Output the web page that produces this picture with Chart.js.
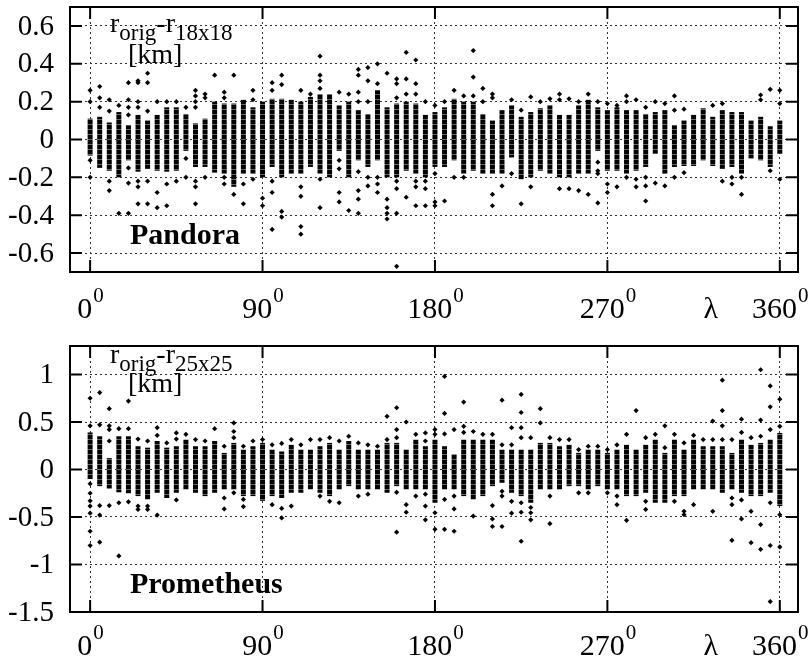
<!DOCTYPE html>
<html>
<head>
<meta charset="utf-8">
<script src="https://cdn.jsdelivr.net/npm/chart.js@4.4.1/dist/chart.umd.min.js"></script>
<style>
  html, body { margin: 0; padding: 0; background: #fff; }
  #wrap { position: relative; width: 810px; height: 658px; }
  canvas { position: absolute; left: 0; }
</style>
</head>
<body>
<div id="wrap">
  <canvas id="pandora" width="810" height="325" style="top:0"></canvas>
  <canvas id="prometheus" width="810" height="333" style="top:325px"></canvas>
</div>
<script>
// longitude of each measurement column (degrees)
const longitudes = [0,5,10,15,20,25,30,35,40,45,50,55,60,65,70,75,80,85,90,95,
  100,105,110,115,120,125,130,135,140,145,150,155,160,165,170,175,180,185,190,195,
  200,205,210,215,220,225,230,235,240,245,250,255,260,265,270,275,280,285,290,295,
  300,305,310,315,320,325,330,335,340,345,350,355,360];

const xTicks = [0, 90, 180, 270, 360];
const xTickLabels = ['0', '90', '180', '270', '360'];

// Pandora: dense part of each column (low / high) and the scattered points around it [km]
const pandoraLo = [-0.085,-0.15,-0.165,-0.2,-0.11,-0.17,-0.155,-0.165,-0.17,-0.165,
  -0.06,-0.145,-0.145,-0.175,-0.18,-0.25,-0.18,-0.18,-0.2,-0.145,
  -0.2,-0.18,-0.18,-0.145,-0.18,-0.2,-0.06,-0.2,-0.11,-0.145,
  -0.11,-0.2,-0.2,-0.165,-0.18,-0.2,-0.145,-0.145,-0.11,-0.18,
  -0.165,-0.18,-0.18,-0.18,-0.095,-0.21,-0.2,-0.165,-0.18,-0.2,
  -0.2,-0.18,-0.18,-0.06,-0.165,-0.165,-0.18,-0.165,-0.145,-0.075,
  -0.18,-0.145,-0.14,-0.14,-0.11,-0.14,-0.155,-0.145,-0.18,-0.1,
  -0.11,-0.145,-0.075];
const pandoraHi = [0.11,0.12,0.09,0.145,0.075,0.13,0.1,0.13,0.17,0.17,
  0.135,0.085,0.11,0.2,0.19,0.19,0.21,0.17,0.2,0.215,
  0.215,0.21,0.2,0.225,0.24,0.24,0.18,0.2,0.155,0.135,
  0.26,0.17,0.19,0.2,0.19,0.13,0.145,0.17,0.215,0.2,
  0.2,0.135,0.1,0.155,0.18,0.12,0.145,0.165,0.18,0.13,
  0.13,0.18,0.21,0.17,0.155,0.17,0.155,0.155,0.135,0.145,
  0.155,0.075,0.1,0.13,0.165,0.12,0.155,0.145,0.145,0.1,
  0.12,0.07,0.1];
const pandoraDots = [
  [0.26,0.2,-0.11,-0.2], [0.28,0.22,0.17], [0.21,0.15,-0.22,-0.27], [0.18,-0.39],
  [0.3,0.21,0.17,0.13,-0.15,-0.23,-0.39], [0.31,0.3,0.2,0.17,-0.22,-0.25,-0.34],
  [0.35,0.3,0.15,-0.22,-0.34], [0.2,-0.28,-0.36], [0.2,-0.235,-0.35], [0.2,-0.22],
  [0.17,-0.1,-0.2], [0.26,0.23,0.2,0.17,-0.22,-0.25,-0.34], [0.24,0.22,-0.2], [0.34],
  [0.25,0.22,-0.2,-0.235], [0.34,-0.29], [-0.235,-0.34], [0.26,0.21,-0.21], [-0.31,-0.35],
  [0.3,0.26,-0.22,-0.28,-0.475], [0.34,0.29,-0.38,-0.41], [], [0.26,-0.25,-0.3,-0.46,-0.5],
  [0.24], [0.44,0.34,0.31,0.27,-0.21,-0.36], [], [0.25,-0.11,-0.155,-0.28,-0.33],
  [0.24,-0.375], [0.37,0.34,0.25,0.2,-0.17,-0.27,-0.315,-0.39], [0.38,0.31,0.2,-0.2,-0.245],
  [0.4,0.295,-0.2,-0.235,-0.28], [0.35,-0.315,-0.36,-0.39,-0.42],
  [0.32,0.295,0.22,-0.22,-0.26,-0.39,-0.67], [0.46,0.32,0.24,-0.305],
  [0.42,0.295,0.24,-0.22,-0.25,-0.35], [0.2,-0.22,-0.26,-0.35], [0.18,-0.18,-0.33,-0.35],
  [0.2,-0.325], [0.26,-0.2], [0.23,-0.2], [0.47,0.33,0.23], [0.27,0.2],
  [0.24,0.22,-0.29,-0.35], [-0.245], [0.21,-0.18], [0.155,-0.34], [0.225,-0.25], [0.2],
  [0.215], [0.24,0.21,-0.26], [0.215,-0.26], [0.2,-0.27], [0.24,-0.29],
  [0.2,-0.12,-0.165,-0.18,-0.335], [0.19,-0.235,-0.28], [0.18,-0.25], [0.23,0.2,-0.2],
  [0.21,-0.21,-0.25], [0.17,-0.2,-0.245,-0.325], [0.2,-0.23], [0.19,-0.245],
  [0.23,0.155,-0.2], [0.16,-0.175], [], [], [0.18], [0.19,-0.22], [-0.2,-0.235],
  [-0.2,-0.29], [], [0.235,0.21], [0.265,-0.165], [0.26,0.19,-0.21]
];
const pandoraYTicks = [-0.6, -0.4, -0.2, 0, 0.2, 0.4, 0.6];
const pandoraYLabels = ['-0.6', '-0.4', '-0.2', '0', '0.2', '0.4', '0.6'];

// Prometheus
const prometheusLo = [-0.1,-0.175,-0.2,-0.24,-0.25,-0.28,-0.315,-0.245,-0.3,-0.245,
  -0.21,-0.245,-0.28,-0.245,-0.21,-0.21,-0.28,-0.28,-0.33,-0.28,
  -0.3,-0.245,-0.245,-0.21,-0.245,-0.28,-0.21,-0.175,-0.21,-0.21,
  -0.21,-0.245,-0.175,-0.21,-0.21,-0.21,-0.35,-0.21,-0.21,-0.28,
  -0.315,-0.28,-0.175,-0.14,-0.245,-0.28,-0.35,-0.21,-0.21,-0.21,
  -0.175,-0.175,-0.21,-0.175,-0.21,-0.21,-0.28,-0.28,-0.245,-0.35,
  -0.35,-0.28,-0.28,-0.21,-0.21,-0.21,-0.245,-0.21,-0.245,-0.28,
  -0.28,-0.245,-0.385];
const prometheusHi = [0.39,0.35,0.12,0.35,0.35,0.245,0.23,0.3,0.23,0.245,
  0.315,0.245,0.245,0.3,0.175,0.28,0.21,0.245,0.28,0.21,
  0.19,0.26,0.21,0.21,0.245,0.28,0.21,0.3,0.21,0.21,
  0.21,0.28,0.28,0.21,0.315,0.245,0.315,0.245,0.16,0.315,
  0.315,0.315,0.315,0.21,0.21,0.21,0.21,0.28,0.28,0.245,
  0.26,0.175,0.21,0.21,0.175,0.21,0.26,0.21,0.26,0.315,
  0.175,0.315,0.21,0.315,0.245,0.245,0.245,0.175,0.315,0.26,
  0.28,0.315,0.385];
const prometheusDots = [
  [0.75,0.46,-0.15,-0.25,-0.33,-0.385,-0.46,-0.65,-0.8], [0.81,0.47,-0.38,-0.48,-0.765],
  [0.64,0.46,0.42,0.3,-0.38], [0.43,-0.35,-0.91], [0.72,0.43,-0.34], [0.32,-0.385,-0.42],
  [0.3,-0.385,-0.42], [0.44,0.36,-0.48], [0.28], [0.385,0.32,-0.32], [0.37], [0.315],
  [0.3], [0.43], [0.245,-0.3,-0.415], [0.49,0.4,0.335,-0.245], [0.245,-0.315,-0.39],
  [0.3], [0.315], [0.26,-0.37], [0.275,-0.41,-0.51], [0.315,-0.385], [0.26], [0.315],
  [0.315,-0.28], [0.335,-0.335], [0.3,-0.35], [0.35], [0.28,-0.28], [0.26,-0.26], [0.245],
  [0.56,0.315], [0.65,0.42,0.335,-0.24,-0.66], [0.5,-0.37,-0.45], [0.37,-0.28],
  [0.385,0.3,-0.26,-0.385,-0.53], [0.42,0.37,-0.455,-0.63], [0.98,0.59,0.375,-0.315,-0.63],
  [0.42,-0.28,-0.415,-0.65], [0.71,0.455,0.39], [0.4,-0.49], [0.37],
  [0.37,-0.38,-0.52,-0.6], [0.73,0.26,-0.23,-0.28,-0.6], [0.44,0.26,-0.335,-0.46],
  [0.79,0.6,0.44,0.335,-0.35,-0.45,-0.755], [0.335,-0.4,-0.455,-0.53], [0.64,0.49],
  [0.335,-0.28,-0.57], [0.315], [0.315], [0.21,-0.245], [0.245,-0.245], [0.245],
  [0.21,-0.245], [0.26,-0.28,-0.37], [0.37,-0.535], [0.62], [0.335,-0.335,-0.42],
  [0.37], [0.46,0.23], [0.37,-0.335], [0.28,-0.44,-0.475], [0.36,-0.37], [0.315],
  [0.51,0.315,-0.44], [0.94,0.62,0.46,0.315], [0.315,-0.3,-0.37,-0.745],
  [0.53,0.39,-0.32,-0.52], [0.335,-0.44,-0.77], [1.05,0.52,0.35,-0.58,-0.84],
  [0.88,0.66,0.42,-0.35,-0.8,-1.39], [0.74,0.455,-0.475,-0.815]
];
const prometheusYTicks = [-1.5, -1, -0.5, 0, 0.5, 1];
const prometheusYLabels = ['-1.5', '-1', '-0.5', '0', '0.5', '1'];

const FONT = '"Liberation Serif", "Times New Roman", serif';

// dense columns look like stacked dots: a faint break every few pixels
function dotColumnFill() {
  const c = document.createElement('canvas');
  c.width = 1; c.height = 5;
  const g = c.getContext('2d');
  g.fillStyle = '#000'; g.fillRect(0, 0, 1, 4);
  g.fillStyle = '#666'; g.fillRect(0, 4, 1, 1);
  return g.createPattern(c, 'repeat');
}

const framePlugin = {
  id: 'frame',
  afterDraw(chart, args, p) {
    const ctx = chart.ctx, a = chart.chartArea;
    const xs = chart.scales.x, ys = chart.scales.y;
    ctx.save();
    ctx.strokeStyle = '#000';
    ctx.lineWidth = 2;
    ctx.strokeRect(a.left, a.top, a.right - a.left, a.bottom - a.top);
    ctx.beginPath();
    const tl = 12;
    p.yTicks.forEach(v => {
      const y = ys.getPixelForValue(v);
      ctx.moveTo(a.left, y); ctx.lineTo(a.left + tl, y);
      ctx.moveTo(a.right, y); ctx.lineTo(a.right - tl, y);
    });
    xTicks.forEach(v => {
      const x = xs.getPixelForValue(v);
      ctx.moveTo(x, a.top); ctx.lineTo(x, a.top + tl);
      ctx.moveTo(x, a.bottom); ctx.lineTo(x, a.bottom - tl);
    });
    ctx.stroke();

    ctx.fillStyle = '#000';

    // y tick labels
    ctx.font = '29px ' + FONT;
    ctx.textAlign = 'right';
    ctx.textBaseline = 'middle';
    p.yTicks.forEach((v, i) => {
      ctx.fillText(p.yLabels[i], a.left - 16, ys.getPixelForValue(v) + 1);
    });

    // x tick labels with superscript degree zero
    ctx.textBaseline = 'alphabetic';
    ctx.textAlign = 'left';
    const base = a.bottom + p.labelBase;
    xTickLabels.forEach((t, i) => {
      const x = xs.getPixelForValue(xTicks[i]);
      ctx.font = '30px ' + FONT;
      const w1 = ctx.measureText(t).width;
      ctx.font = '21px ' + FONT;
      const w2 = ctx.measureText('0').width;
      const x0 = x - (w1 + w2) / 2;
      ctx.font = '30px ' + FONT;
      ctx.fillText(t, x0, base);
      ctx.font = '21px ' + FONT;
      ctx.fillText('0', x0 + w1 + 1, base - 16);
    });
    ctx.font = '30px ' + FONT;
    ctx.textAlign = 'center';
    ctx.fillText('λ', xs.getPixelForValue(324), base);

    // quantity label r_orig - r_NxN [km]
    ctx.textAlign = 'left';
    let x = a.left + 40;
    const y = a.top + p.titleBase;
    const big = '28px ' + FONT, small = '23px ' + FONT;
    [['r', big, 0], ['orig', small, 8], ['-r', big, 0], [p.gridName, small, 8]].forEach(([t, f, dy]) => {
      ctx.font = f;
      ctx.fillText(t, x, y + dy);
      x += ctx.measureText(t).width;
    });
    ctx.font = big;
    ctx.fillText('[km]', a.left + 58, y + p.kmOff);
    ctx.font = 'bold 30px ' + FONT;
    ctx.fillText(p.name, a.left + 60, a.bottom - p.nameOff);
    ctx.restore();
  }
};

function makePanel(id, lo, hi, dots, yMin, yMax, yTicks, yLabels, opt) {
  const bars = longitudes.map((x, i) => ({ x: x, y: [lo[i], hi[i]] }));
  const pts = [];
  longitudes.forEach((x, i) => dots[i].forEach(v => pts.push({ x: x, y: v })));
  const gridLine = { color: '#333', lineWidth: 1, drawTicks: false, offset: false };
  return new Chart(document.getElementById(id), {
    type: 'scatter',
    data: {
      datasets: [
        { type: 'bar', data: bars, backgroundColor: dotColumnFill(), borderWidth: 0,
          barThickness: 5, maxBarThickness: 5, inflateAmount: 0 },
        { type: 'scatter', data: pts, backgroundColor: '#000', borderWidth: 0,
          pointStyle: 'rectRot', pointRadius: 2.6, pointHoverRadius: 2.6 }
      ]
    },
    options: {
      responsive: false,
      animation: false,
      devicePixelRatio: 1,
      layout: { padding: { top: opt.padTop, right: 12, left: 0, bottom: 0 } },
      plugins: {
        legend: { display: false },
        tooltip: { enabled: false },
        frame: Object.assign({ yTicks: yTicks, yLabels: yLabels }, opt)
      },
      scales: {
        x: {
          type: 'linear', min: -10.5, max: 369.5, offset: false,
          afterBuildTicks: s => { s.ticks = xTicks.map(v => ({ value: v })); },
          afterFit: s => { s.height = opt.xHeight; },
          ticks: { display: false },
          grid: gridLine,
          border: { display: false, dash: [2, 3] }
        },
        y: {
          min: yMin, max: yMax,
          afterBuildTicks: s => { s.ticks = yTicks.map(v => ({ value: v })); },
          afterFit: s => { s.width = 70; },
          ticks: { display: false },
          grid: gridLine,
          border: { display: false, dash: [2, 3] }
        }
      }
    },
    plugins: [framePlugin]
  });
}

makePanel('pandora', pandoraLo, pandoraHi, pandoraDots, -0.7, 0.7, pandoraYTicks, pandoraYLabels,
  { padTop: 7, xHeight: 53, labelBase: 46, titleBase: 25, kmOff: 31, nameOff: 28, name: 'Pandora', gridName: '18x18' });
makePanel('prometheus', prometheusLo, prometheusHi, prometheusDots, -1.5, 1.3, prometheusYTicks, prometheusYLabels,
  { padTop: 21, xHeight: 46, labelBase: 43, titleBase: 17, kmOff: 29, nameOff: 19, name: 'Prometheus', gridName: '25x25' });
</script>
</body>
</html>
